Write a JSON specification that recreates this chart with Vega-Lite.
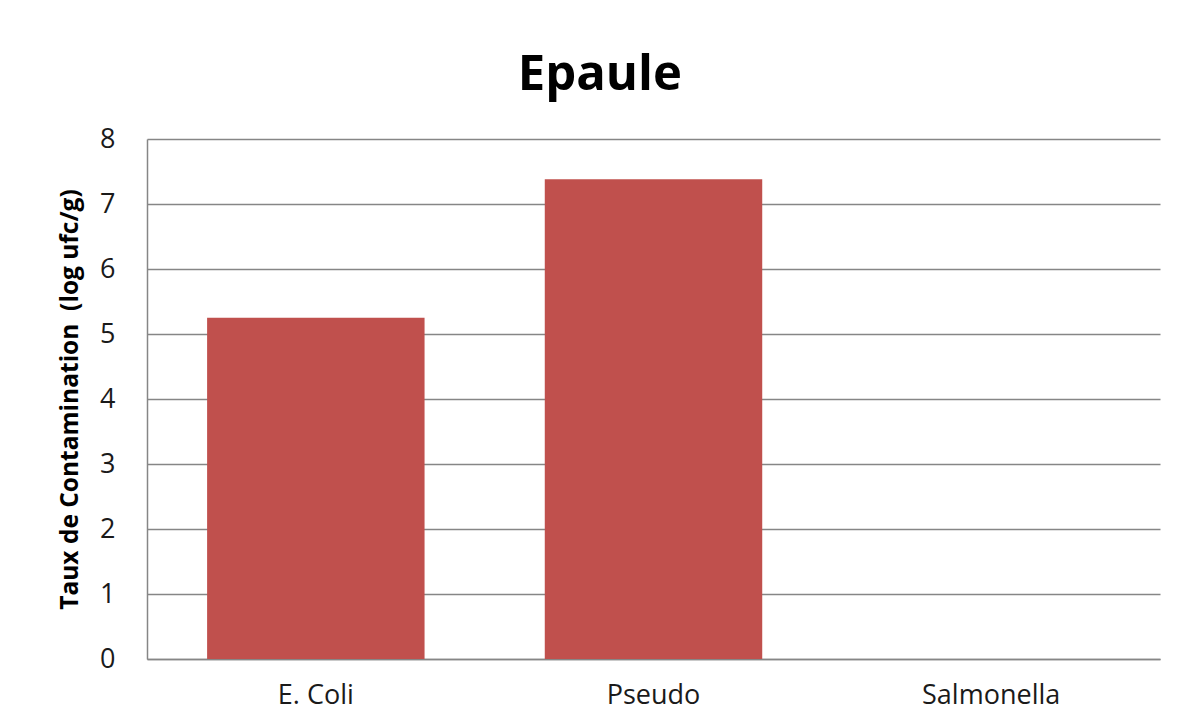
{
  "$schema": "https://vega.github.io/schema/vega-lite/v6.json",
  "width": 1013,
  "height": 520,
  "autosize": {"type": "none"},
  "padding": {"left": 147, "top": 139, "right": 22, "bottom": 66},
  "background": "white",
  "title": {
    "text": "Epaule",
    "font": "Open Sans",
    "fontSize": 49,
    "fontWeight": "bold",
    "color": "#000000",
    "anchor": "middle",
    "frame": "bounds",
    "offset": 25,
    "dx": -9
  },
  "data": {
    "values": [
      {"germe": "E. Coli", "taux": 5.25},
      {"germe": "Pseudo", "taux": 7.38},
      {"germe": "Salmonella", "taux": 0}
    ]
  },
  "mark": {"type": "bar", "color": "#C0504D"},
  "encoding": {
    "x": {
      "field": "germe",
      "type": "nominal",
      "sort": null,
      "scale": {"paddingInner": 0.356, "paddingOuter": 0.178},
      "axis": {
        "title": null,
        "labelAngle": 0,
        "labelFont": "Open Sans",
        "labelFontSize": 27,
        "labelColor": "#1a1a1a",
        "labelPadding": 23,
        "ticks": false,
        "domainColor": "#868686",
        "domainWidth": 1.5,
        "grid": false
      }
    },
    "y": {
      "field": "taux",
      "type": "quantitative",
      "scale": {"domain": [0, 8], "nice": false},
      "axis": {
        "title": "Taux de Contamination\u00a0 (log ufc/g)",
        "titleFont": "Open Sans",
        "titleFontSize": 24.5,
        "titleFontWeight": "bold",
        "titleColor": "#000000",
        "titlePadding": 17,
        "values": [0, 1, 2, 3, 4, 5, 6, 7, 8],
        "labelFont": "Open Sans",
        "labelFontSize": 27,
        "labelColor": "#1a1a1a",
        "labelPadding": 32,
        "ticks": false,
        "domainColor": "#868686",
        "domainWidth": 1.5,
        "grid": true,
        "gridColor": "#868686",
        "gridWidth": 1.5
      }
    }
  },
  "config": {
    "view": {"stroke": null}
  }
}
